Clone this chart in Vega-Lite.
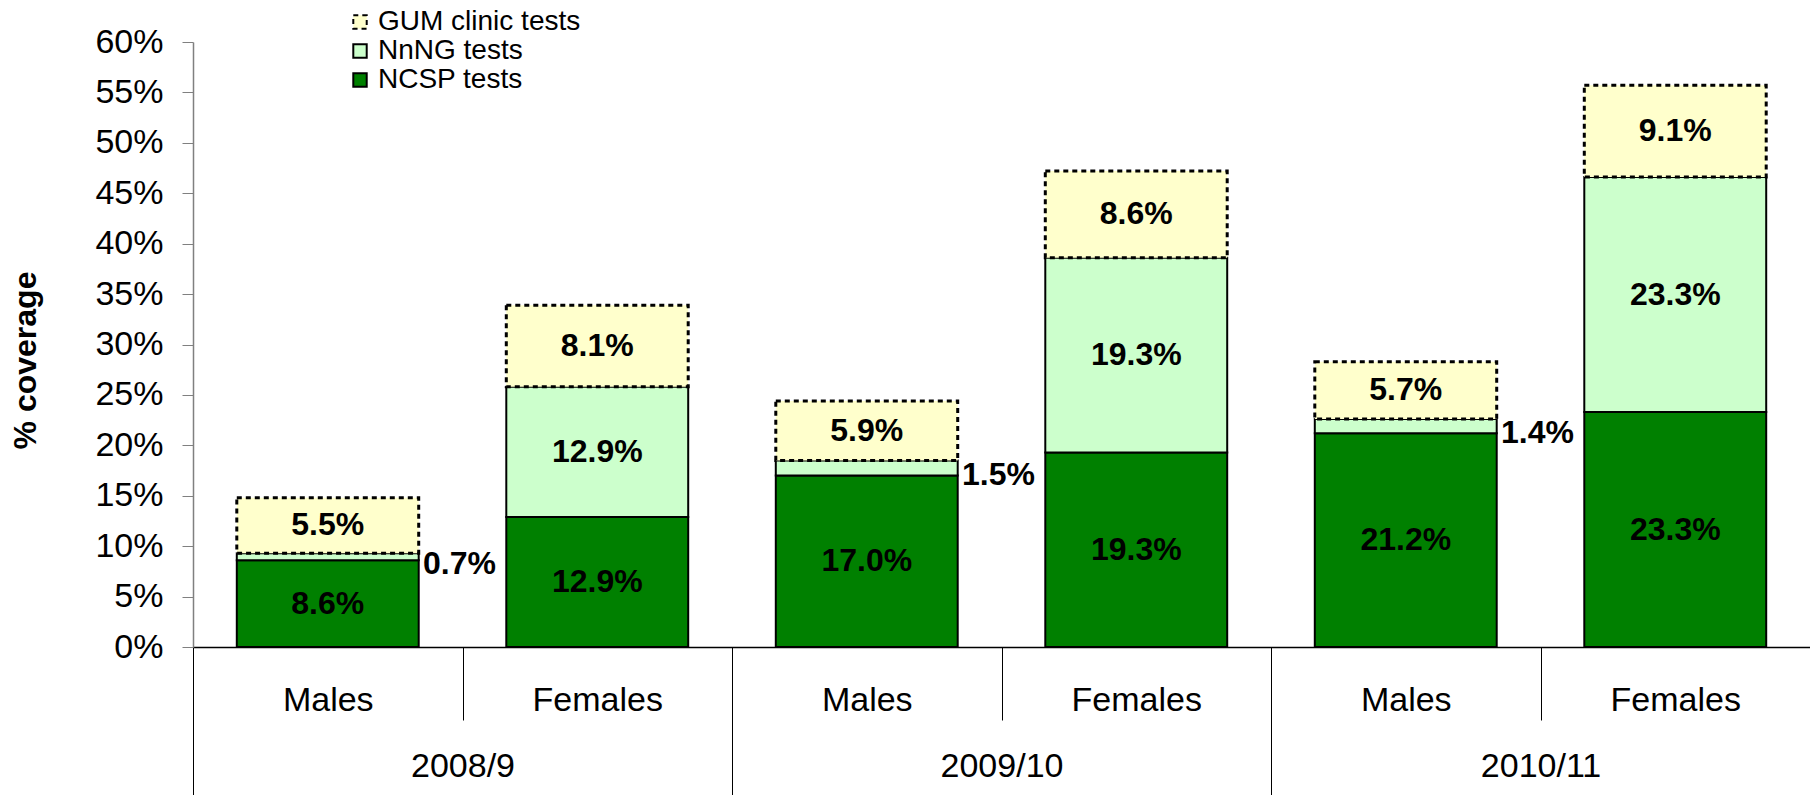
{
  "$schema": "https://vega.github.io/schema/vega-lite/v6.json",
  "width": 1617,
  "height": 605,
  "autosize": {"type": "none"},
  "padding": {"left": 193, "top": 42, "right": 0, "bottom": 148},
  "background": "white",
  "config": {
    "font": "Liberation Sans",
    "view": {"stroke": null},
    "axis": {"labelFont": "Liberation Sans", "titleFont": "Liberation Sans", "grid": false},
    "legend": {"labelFont": "Liberation Sans"}
  },
  "data": {
    "values": [
      {"year": "2008/9", "sex": "Males", "cat": "2008/9|Males", "series": "NCSP tests", "ord": 1, "value": 0.086},
      {"year": "2008/9", "sex": "Males", "cat": "2008/9|Males", "series": "NnNG tests", "ord": 2, "value": 0.007},
      {"year": "2008/9", "sex": "Males", "cat": "2008/9|Males", "series": "GUM clinic tests", "ord": 3, "value": 0.055},
      {"year": "2008/9", "sex": "Females", "cat": "2008/9|Females", "series": "NCSP tests", "ord": 1, "value": 0.129},
      {"year": "2008/9", "sex": "Females", "cat": "2008/9|Females", "series": "NnNG tests", "ord": 2, "value": 0.129},
      {"year": "2008/9", "sex": "Females", "cat": "2008/9|Females", "series": "GUM clinic tests", "ord": 3, "value": 0.081},
      {"year": "2009/10", "sex": "Males", "cat": "2009/10|Males", "series": "NCSP tests", "ord": 1, "value": 0.170},
      {"year": "2009/10", "sex": "Males", "cat": "2009/10|Males", "series": "NnNG tests", "ord": 2, "value": 0.015},
      {"year": "2009/10", "sex": "Males", "cat": "2009/10|Males", "series": "GUM clinic tests", "ord": 3, "value": 0.059},
      {"year": "2009/10", "sex": "Females", "cat": "2009/10|Females", "series": "NCSP tests", "ord": 1, "value": 0.193},
      {"year": "2009/10", "sex": "Females", "cat": "2009/10|Females", "series": "NnNG tests", "ord": 2, "value": 0.193},
      {"year": "2009/10", "sex": "Females", "cat": "2009/10|Females", "series": "GUM clinic tests", "ord": 3, "value": 0.086},
      {"year": "2010/11", "sex": "Males", "cat": "2010/11|Males", "series": "NCSP tests", "ord": 1, "value": 0.212},
      {"year": "2010/11", "sex": "Males", "cat": "2010/11|Males", "series": "NnNG tests", "ord": 2, "value": 0.014},
      {"year": "2010/11", "sex": "Males", "cat": "2010/11|Males", "series": "GUM clinic tests", "ord": 3, "value": 0.057},
      {"year": "2010/11", "sex": "Females", "cat": "2010/11|Females", "series": "NCSP tests", "ord": 1, "value": 0.233},
      {"year": "2010/11", "sex": "Females", "cat": "2010/11|Females", "series": "NnNG tests", "ord": 2, "value": 0.233},
      {"year": "2010/11", "sex": "Females", "cat": "2010/11|Females", "series": "GUM clinic tests", "ord": 3, "value": 0.091}
    ]
  },
  "layer": [
    {
      "mark": {"type": "bar", "stroke": "black", "width": {"band": 0.675}},
      "encoding": {
        "x": {
          "field": "cat", "type": "nominal", "sort": null,
          "scale": {"paddingInner": 0, "paddingOuter": 0},
          "axis": {
            "orient": "bottom", "title": null,
            "labelExpr": "split(datum.label, '|')[1]",
            "labelAngle": 0, "labelFontSize": 34, "labelColor": "black",
            "labelPadding": -10, "labelBaseline": "alphabetic",
            "tickBand": "extent", "tickSize": 73, "tickColor": "black", "tickWidth": 1,
            "domainColor": "black", "domainWidth": 1.5
          }
        },
        "y": {
          "field": "value", "type": "quantitative", "stack": "zero",
          "scale": {"domain": [0, 0.6], "nice": false},
          "axis": {
            "title": "% coverage", "titleFontSize": 32, "titleFontWeight": "bold", "titleColor": "black",
            "titlePadding": 52, "titleY": 318,
            "format": ".0%",
            "values": [0, 0.05, 0.1, 0.15, 0.2, 0.25, 0.3, 0.35, 0.4, 0.45, 0.5, 0.55, 0.6],
            "labelFontSize": 34, "labelColor": "black", "labelPadding": 19,
            "tickSize": 11, "tickColor": "#808080", "domainColor": "#808080", "domainWidth": 1.5
          }
        },
        "order": {"field": "ord", "type": "quantitative", "sort": "ascending"},
        "color": {
          "field": "series", "type": "nominal",
          "scale": {"domain": ["GUM clinic tests", "NnNG tests", "NCSP tests"], "range": ["#FFFFCC", "#CCFFCC", "#008000"]},
          "legend": {
            "title": null, "orient": "none", "legendX": 153, "legendY": -34,
            "labelFontSize": 28, "labelColor": "black", "labelOffset": 4, "labelLimit": 500,
            "symbolType": "square", "symbolSize": 180, "symbolStrokeColor": "black", "symbolStrokeWidth": 2,
            "rowPadding": 1,
            "encode": {"symbols": {"update": {"stroke": {"value": "black"}, "strokeWidth": {"value": 2}}}}
          }
        },
        "strokeDash": {
          "field": "series", "type": "nominal",
          "scale": {"domain": ["GUM clinic tests", "NnNG tests", "NCSP tests"], "range": [[5, 4], [1, 0], [1, 0]]},
          "legend": {
            "title": null, "orient": "none", "legendX": 153, "legendY": -34,
            "labelFontSize": 28, "labelColor": "black", "labelOffset": 4, "labelLimit": 500,
            "symbolType": "square", "symbolSize": 180, "symbolStrokeColor": "black", "symbolStrokeWidth": 2,
            "rowPadding": 1,
            "encode": {"symbols": {"update": {"stroke": {"value": "black"}, "strokeWidth": {"value": 2}}}}
          }
        },
        "strokeWidth": {"condition": {"test": "datum.series === 'GUM clinic tests'", "value": 3}, "value": 2}
      }
    },
    {
      "transform": [
        {"stack": "value", "groupby": ["cat"], "sort": [{"field": "ord", "order": "ascending"}], "as": ["v0", "v1"]},
        {"fold": ["v0", "v1"], "as": ["edge", "pos"]},
        {"aggregate": [{"op": "mean", "field": "pos", "as": "mid"}], "groupby": ["cat", "year", "sex", "series", "value"]},
        {"filter": {"not": {"and": [{"field": "sex", "equal": "Males"}, {"field": "series", "equal": "NnNG tests"}]}}}
      ],
      "mark": {"type": "text", "fontSize": 32, "fontWeight": "bold", "color": "black", "baseline": "middle", "align": "center"},
      "encoding": {
        "x": {
          "field": "cat", "type": "nominal",
          "sort": ["2008/9|Males", "2008/9|Females", "2009/10|Males", "2009/10|Females", "2010/11|Males", "2010/11|Females"],
          "scale": {"paddingInner": 0, "paddingOuter": 0},
          "axis": null
        },
        "y": {
          "field": "mid", "type": "quantitative",
          "scale": {"domain": [0, 0.6], "nice": false},
          "axis": {
            "title": "% coverage", "titleFontSize": 32, "titleFontWeight": "bold", "titleColor": "black",
            "titlePadding": 52, "titleY": 318,
            "format": ".0%",
            "values": [0, 0.05, 0.1, 0.15, 0.2, 0.25, 0.3, 0.35, 0.4, 0.45, 0.5, 0.55, 0.6],
            "labelFontSize": 34, "labelColor": "black", "labelPadding": 19,
            "tickSize": 11, "tickColor": "#808080", "domainColor": "#808080", "domainWidth": 1.5
          }
        },
        "text": {"field": "value", "type": "quantitative", "format": ".1%"}
      }
    },
    {
      "transform": [
        {"stack": "value", "groupby": ["cat"], "sort": [{"field": "ord", "order": "ascending"}], "as": ["v0", "v1"]},
        {"fold": ["v0", "v1"], "as": ["edge", "pos"]},
        {"aggregate": [{"op": "mean", "field": "pos", "as": "mid"}], "groupby": ["cat", "year", "sex", "series", "value"]},
        {"filter": {"and": [{"field": "sex", "equal": "Males"}, {"field": "series", "equal": "NnNG tests"}]}}
      ],
      "mark": {"type": "text", "fontSize": 32, "fontWeight": "bold", "color": "black", "baseline": "middle", "align": "center", "dx": -3, "dy": 7},
      "encoding": {
        "x": {
          "field": "year", "type": "nominal",
          "sort": ["2008/9", "2009/10", "2010/11"],
          "scale": {"paddingInner": 0, "paddingOuter": 0},
          "axis": {
            "orient": "bottom", "title": null,
            "labelAngle": 0, "labelFontSize": 34, "labelColor": "black",
            "labelPadding": -21, "labelBaseline": "alphabetic",
            "tickBand": "extent", "tickSize": 150, "tickColor": "black", "tickWidth": 1,
            "domain": false
          }
        },
        "y": {
          "field": "mid", "type": "quantitative",
          "scale": {"domain": [0, 0.6], "nice": false},
          "axis": {
            "title": "% coverage", "titleFontSize": 32, "titleFontWeight": "bold", "titleColor": "black",
            "titlePadding": 52, "titleY": 318,
            "format": ".0%",
            "values": [0, 0.05, 0.1, 0.15, 0.2, 0.25, 0.3, 0.35, 0.4, 0.45, 0.5, 0.55, 0.6],
            "labelFontSize": 34, "labelColor": "black", "labelPadding": 19,
            "tickSize": 11, "tickColor": "#808080", "domainColor": "#808080", "domainWidth": 1.5
          }
        },
        "text": {"field": "value", "type": "quantitative", "format": ".1%"}
      }
    }
  ],
  "resolve": {"scale": {"x": "independent"}}
}
